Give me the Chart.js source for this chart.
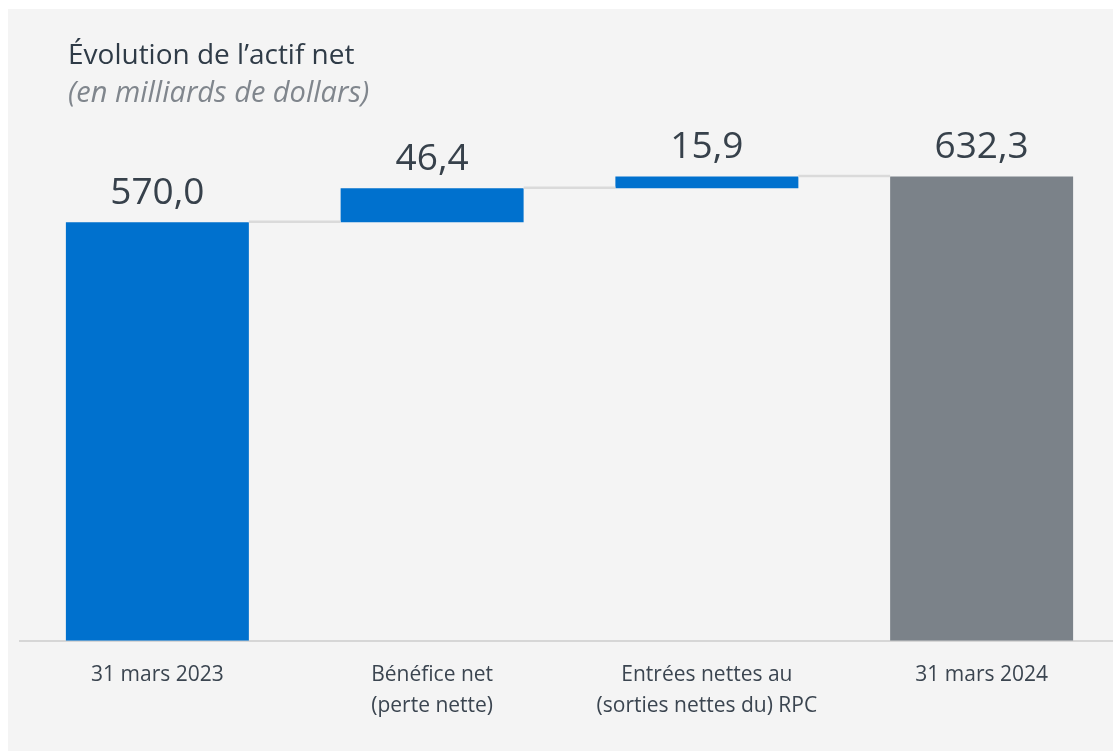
<!DOCTYPE html>
<html lang="fr">
<head>
<meta charset="utf-8">
<script src="https://cdn.jsdelivr.net/npm/chart.js@4"></script>
<style>
  body { margin: 0; background: #ffffff; overflow: hidden; width: 1113px; height: 751px; position: relative; }
  #panel { position: absolute; left: 8px; top: 9px; width: 1105px; height: 742px; background: #f4f4f4; }
  #wrap { position: absolute; left: 0; top: 0; width: 1119px; height: 770px; }
  .head { position: absolute; left: 68px; font-family: 'Open Sans', sans-serif; line-height: 36px; white-space: nowrap; }
  #title { top: 35px; color: #2f3b47; font-size: 28px; }
  #subtitle { top: 73px; color: #80868d; font-style: italic; font-size: 29px; }
</style>
</head>
<body>
<div id="panel"></div>
<div id="wrap"><canvas id="chart"></canvas></div>
<div id="title" class="head">Évolution de l’actif net</div>
<div id="subtitle" class="head">(en milliards de dollars)</div>
<script>
// Données (en milliards de dollars)
let categories = [
  ['31 mars 2023'],
  ['Bénéfice net', '(perte nette)'],
  ['Entrées nettes au', '(sorties nettes du) RPC'],
  ['31 mars 2024'],
];
let values = [570.0, 46.4, 15.9, 632.3];
let isTotal = [true, false, false, true];
let barColors = ['#0071ce', '#0071ce', '#0071ce', '#7b8289'];

// build floating bars for the waterfall
let running = 0;
let floating = [];
for (let i = 0; i < values.length; i++) {
  if (isTotal[i]) {
    floating.push([0, values[i]]);
    running = values[i];
  } else {
    floating.push([running, running + values[i]]);
    running += values[i];
  }
}

function fmt(v) {
  return v.toFixed(1).replace('.', ',');
}

// connector lines between bars + value labels
let waterfallExtras = {
  id: 'waterfallExtras',
  afterDatasetsDraw(chart) {
    let ctx = chart.ctx;
    let meta = chart.getDatasetMeta(0);
    let y = chart.scales.y;
    ctx.save();
    ctx.strokeStyle = '#dadada';
    ctx.lineWidth = 2.5;
    for (let i = 0; i < meta.data.length - 1; i++) {
      let a = meta.data[i];
      let b = meta.data[i + 1];
      let level = y.getPixelForValue(floating[i][1]);
      ctx.beginPath();
      ctx.moveTo(a.x + a.width / 2, level - 0.5);
      ctx.lineTo(b.x - b.width / 2, level - 0.5);
      ctx.stroke();
    }
    ctx.fillStyle = '#37414b';
    ctx.font = '37px "Open Sans"';
    ctx.textAlign = 'center';
    ctx.textBaseline = 'alphabetic';
    for (let i = 0; i < meta.data.length; i++) {
      let top = y.getPixelForValue(floating[i][1]);
      ctx.fillText(fmt(values[i]), meta.data[i].x, top - 18);
    }
    ctx.restore();
  },
};

let ctx = document.getElementById('chart').getContext('2d');
let myChart = new Chart(ctx, {
  type: 'bar',
  data: {
    labels: categories,
    datasets: [
      {
        data: floating,
        backgroundColor: barColors,
        borderWidth: 0,
        borderSkipped: false,
        barPercentage: 0.666,
        categoryPercentage: 1,
      },
    ],
  },
  options: {
    responsive: true,
    maintainAspectRatio: false,
    animation: false,
    layout: { padding: { left: 20, right: 0, top: 53.3, bottom: 29 } },
    plugins: {
      legend: { display: false },
      tooltip: { enabled: false },
    },
    scales: {
      x: {
        grid: { display: false, drawTicks: false, tickLength: 0 },
        border: { display: true, color: '#d6d6d6', width: 2 },
        ticks: {
          color: '#3b4550',
          font: { family: 'Open Sans', size: 21, lineHeight: 1.48 },
          padding: 19,
          maxRotation: 0,
          autoSkip: false,
        },
      },
      y: {
        display: false,
        min: 0,
        max: 800,
      },
    },
  },
  plugins: [waterfallExtras],
});
</script>
</body>
</html>
